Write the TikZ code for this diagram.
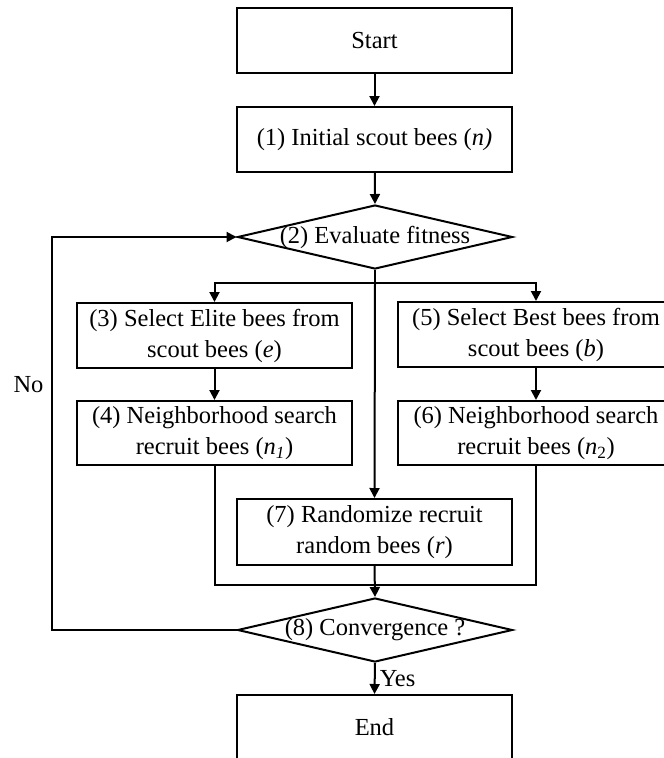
\documentclass[tikz,border=0pt]{standalone}
\usepackage{fontspec}
\setmainfont{Liberation Serif}
\usetikzlibrary{arrows.meta,shapes.geometric}
\begin{document}
\begin{tikzpicture}[x=1pt,y=-1pt,line width=2pt,
	>={Triangle[length=10pt,width=10pt]},
	font=\fontsize{24.5}{31}\selectfont,
	box/.style={draw,rectangle,minimum width=275pt,minimum height=65pt,inner sep=0pt,align=center},
	decision/.style={draw,diamond,minimum width=275pt,minimum height=64pt,inner sep=0pt}]
\useasboundingbox (0,0) rectangle (664,758);
\clip (0,0) rectangle (664,758);
	\node[box] (start) at (374.5,40.5) {Start};
	\node[box] (init) at (374.5,139.5) {(1) Initial scout bees (\textit{n)}};
	\node[decision,label={center:(2) Evaluate fitness}] (eval) at (375,237) {};
	\node[box] (elite) at (214.5,335.5) {(3) Select Elite bees from\\scout bees (\textit{e})};
	\node[box,minimum height=64pt] (nbr1) at (214.5,433) {(4) Neighborhood search\\recruit bees (\textit{n}\textsubscript{\textit{1}})};
	\node[box,minimum width=276pt] (best) at (536,334.5) {(5) Select Best bees from\\scout bees (\textit{b})};
	\node[box,minimum width=276pt,minimum height=64pt] (nbr2) at (536,433) {(6) Neighborhood search\\recruit bees (\textit{n}\textsubscript{2})};
	\node[box,minimum height=66pt] (rand) at (374.5,532) {(7) Randomize recruit\\random bees (\textit{r})};
	\node[decision,label={center:(8) Convergence ?}] (conv) at (375,630) {};
	\node[box] (end) at (374.5,727.5) {End};
	\node (no) at (28.5,385) {No};
	\coordinate (split) at (375,283);
	\coordinate (merge) at (375,585);
	\coordinate (loop) at (51.5,430);

	\draw[->] (start) -- (init);
	\draw[->] (init) -- (eval.north);
	\draw (eval.south) -- (split);
	\draw[->] (split) -| (elite.north);
	\draw[->] (split) -| (best.north);
	\draw[->] (split) -- (rand.north);
	\draw[->] (elite) -- (nbr1);
	\draw[->] (best) -- (nbr2);
	\draw (nbr1.south) |- (merge);
	\draw (nbr2.south) |- (merge);
	\draw[->] (rand.south) -- (conv.north);
	\draw[->] (conv.west) -| (loop) |- (eval.west);
	\draw[->] (conv.south) -- node[right,inner sep=4pt] (yes) {Yes} (end.north);
\end{tikzpicture}
\end{document}
